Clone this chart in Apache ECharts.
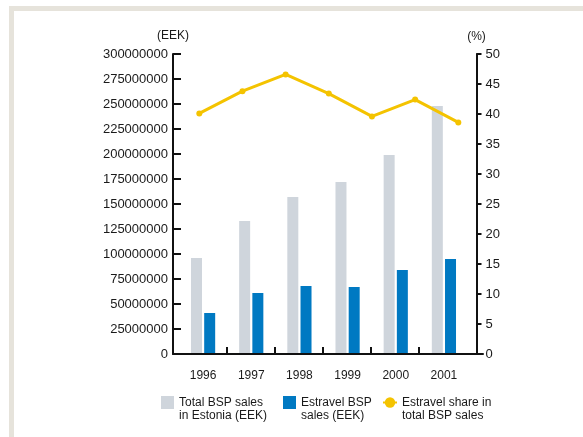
<!DOCTYPE html>
<html><head><meta charset="utf-8">
<script src="https://cdn.jsdelivr.net/npm/echarts@6/dist/echarts.min.js"></script>
<style>
html,body{margin:0;padding:0;background:#fff;}
#frame{position:absolute;left:9px;top:6px;width:574px;height:431px;border-top:5px solid #e6e3db;border-left:5px solid #e6e3db;box-sizing:border-box;}
#chart{position:absolute;left:0;top:0;width:583px;height:437px;}
</style></head><body>
<div id="frame"></div><div id="chart"></div>
<script>
const years = ['1996', '1997', '1998', '1999', '2000', '2001'];
const totalSales = [96000000, 133000000, 157000000, 172000000, 199000000, 248000000];
const estravelSales = [41000000, 61000000, 68000000, 67000000, 84000000, 95000000];
const shareSteps = ['1', '2', '3', '4', '5', '6', '7'];
const shareValues = [40.1, 43.8, 46.6, 43.4, 39.6, 42.4, 38.6];
const eekAxis = { min: 0, max: 300000000, step: 25000000 };
const pctAxis = { min: 0, max: 50, step: 5 };
const names = ['Total BSP sales\nin Estonia (EEK)', 'Estravel BSP\nsales (EEK)', 'Estravel share in\ntotal BSP sales'];

const FONT = 'Liberation Sans, Arial, sans-serif';
const INK = '#1a1a1a';
const AX = '#111';
const plotTop = 54, plotH = 300;
function lineOpt() { return { show: true, onZero: false, lineStyle: { color: AX, width: 2 } }; }

const chart = echarts.init(document.getElementById('chart'));
function legendItem(left, name, icon, w) {
  const item = icon ? { name: name, icon: icon } : { name: name };
  return {
    orient: 'horizontal', itemWidth: w, itemHeight: 13, itemGap: 0, padding: 0,
    selectedMode: false, top: 383, left: left, data: [item],
    formatter: n => '\n' + n,
    textStyle: { fontFamily: FONT, fontSize: 12, lineHeight: 13, color: INK }
  };
}
chart.setOption({
  animation: false,
  grid: [
    { left: 173, top: plotTop, width: 310, height: plotH },
    { left: 179, top: plotTop, width: 289, height: plotH },
    { left: 199.3, top: plotTop, width: 259, height: plotH },
    { left: 227, top: plotTop, width: 192, height: plotH },
    { left: 173, top: plotTop, width: 303.5, height: plotH }
  ],
  xAxis: [
    { gridIndex: 0, type: 'category', data: [''], zlevel: 1, z: 100,
      axisLine: lineOpt(), axisTick: { show: false }, axisLabel: { show: false } },
    { gridIndex: 1, type: 'category', data: years, axisLine: { show: false }, axisTick: { show: false },
      axisLabel: { margin: 16, fontSize: 12, color: INK, fontFamily: FONT } },
    { gridIndex: 2, type: 'category', data: shareSteps, boundaryGap: false, show: false },
    { gridIndex: 3, type: 'value', min: 0, max: 4, interval: 1,
      axisLine: { show: false, onZero: false },
      axisTick: { show: true, inside: true, length: 7, lineStyle: { color: AX, width: 2 } },
      axisLabel: { show: false }, splitLine: { show: false } },
    { gridIndex: 4, type: 'category', data: [''], show: false }
  ],
  yAxis: [
    { gridIndex: 4, type: 'value', position: 'left', min: eekAxis.min, max: eekAxis.max, interval: eekAxis.step,
      name: '(EEK)', nameLocation: 'end', nameGap: 12,
      nameTextStyle: { fontSize: 12, color: INK, fontFamily: FONT, align: 'center' },
      axisLine: lineOpt(), axisTick: { show: true, inside: true, length: 8, lineStyle: { color: AX, width: 2 } },
      axisLabel: { margin: 5, fontSize: 13, color: INK, fontFamily: FONT, formatter: v => String(v) },
      splitLine: { show: false } },
    { gridIndex: 4, type: 'value', position: 'right', min: pctAxis.min, max: pctAxis.max, interval: pctAxis.step,
      name: '(%)', nameLocation: 'end', nameGap: 11,
      nameTextStyle: { fontSize: 12, color: INK, fontFamily: FONT, align: 'center' },
      axisLine: lineOpt(), axisTick: { show: true, inside: false, length: 5, lineStyle: { color: AX, width: 2 } },
      axisLabel: { margin: 9, fontSize: 13, color: INK, fontFamily: FONT },
      splitLine: { show: false } },
    { gridIndex: 1, type: 'value', min: eekAxis.min, max: eekAxis.max, show: false },
    { gridIndex: 2, type: 'value', min: pctAxis.min, max: pctAxis.max, show: false },
    { gridIndex: 3, type: 'value', min: 0, max: 1, show: false },
    { gridIndex: 0, type: 'value', min: 0, max: 1, show: false }
  ],
  legend: [
    legendItem(161, names[0], 'rect', 13),
    legendItem(283, names[1], 'rect', 13),
    legendItem(382, names[2], null, 14)
  ],
  series: [
    { name: names[0], type: 'bar', xAxisIndex: 1, yAxisIndex: 2, data: totalSales, barWidth: 11, barGap: '20%',
      itemStyle: { color: '#cfd5dc' } },
    { name: names[1], type: 'bar', xAxisIndex: 1, yAxisIndex: 2, data: estravelSales, barWidth: 11, barGap: '20%',
      itemStyle: { color: '#0079c2' } },
    { name: names[2], type: 'line', xAxisIndex: 2, yAxisIndex: 3, data: shareValues, z: 5,
      symbol: 'circle', symbolSize: 6, itemStyle: { color: '#f4c300' }, lineStyle: { color: '#f4c300', width: 3 } },
    { name: 'baseline', type: 'line', xAxisIndex: 0, yAxisIndex: 5, data: [null], silent: true, symbol: 'none',
      zlevel: 1, z: 100,
      markLine: { silent: true, symbol: ['none', 'none'], label: { show: false },
        lineStyle: { color: AX, width: 2, type: 'solid' }, data: [{ yAxis: 0 }] } }
  ]
});
</script>
</body></html>
